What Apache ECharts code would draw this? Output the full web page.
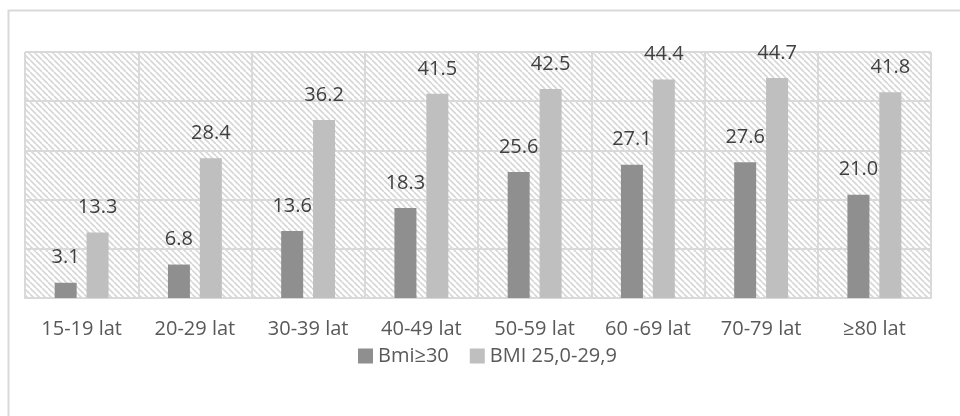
<!DOCTYPE html>
<html>
<head>
<meta charset="utf-8">
<style>
  html, body { margin: 0; padding: 0; background: #ffffff; }
  #chart { width: 960px; height: 416px; }
</style>
<script src="https://cdn.jsdelivr.net/npm/echarts@6/dist/echarts.min.js"></script>
</head>
<body>
<div id="chart"></div>
<script>
// Age groups and shares (%) for the two BMI classes
const categories = ['15-19 lat', '20-29 lat', '30-39 lat', '40-49 lat', '50-59 lat', '60 -69 lat', '70-79 lat', '≥80 lat'];
const obeseValues = [3.1, 6.8, 13.6, 18.3, 25.6, 27.1, 27.6, 21.0];
const overweightValues = [13.3, 28.4, 36.2, 41.5, 42.5, 44.4, 44.7, 41.8];
const seriesNames = ['Bmi≥30', 'BMI 25,0-29,9'];

// Diagonal hatch tile used as the plot background
function makeHatch() {
  const size = 6;
  const c = document.createElement('canvas');
  c.width = size; c.height = size;
  const g = c.getContext('2d');
  g.fillStyle = '#ffffff';
  g.fillRect(0, 0, size, size);
  g.strokeStyle = '#d6d6d6';
  g.lineWidth = 1.6;
  g.beginPath();
  for (let k = -1; k <= 1; k++) {
    g.moveTo(k * size, 0);
    g.lineTo(k * size + size, size);
  }
  g.stroke();
  return c;
}

const font = '"Open Sans", "DejaVu Sans", sans-serif';
const chart = echarts.init(document.getElementById('chart'), null, { renderer: 'canvas' });

const labelCfg = {
  show: true,
  position: 'top',
  distance: 15,
  fontFamily: font,
  fontSize: 20,
  color: '#404040',
  formatter: p => Number(p.value).toFixed(1)
};

chart.setOption({
  backgroundColor: '#ffffff',
  animation: false,
  textStyle: { fontFamily: font },
  graphic: {
    elements: [{
      type: 'rect',
      silent: true,
      shape: { x: 8.5, y: 10.5, width: 1000, height: 1000 },
      style: { fill: 'none', stroke: '#d9d9d9', lineWidth: 2 }
    }]
  },
  grid: {
    left: 25, right: 29, top: 52, bottom: 118,
    show: true,
    borderWidth: 0,
    backgroundColor: { image: makeHatch(), repeat: 'repeat' }
  },
  legend: {
    data: seriesNames,
    left: 353,
    top: 341,
    icon: 'rect',
    itemWidth: 15,
    itemHeight: 15,
    itemGap: 21,
    textStyle: { fontFamily: font, fontSize: 20, color: '#595959' }
  },
  xAxis: {
    type: 'category',
    data: categories,
    axisLine: { show: true, lineStyle: { color: '#d9d9d9', width: 2 } },
    axisTick: { show: false },
    axisLabel: { margin: 21, fontFamily: font, fontSize: 20, color: '#595959' },
    splitLine: { show: true, lineStyle: { color: '#d9d9d9', width: 2 } }
  },
  yAxis: {
    type: 'value',
    min: 0,
    max: 50,
    interval: 10,
    axisLine: { show: false },
    axisTick: { show: false },
    axisLabel: { show: false },
    splitLine: { show: true, lineStyle: { color: '#d9d9d9', width: 2 } }
  },
  series: [
    {
      name: seriesNames[0],
      type: 'bar',
      data: obeseValues,
      barWidth: 22,
      barGap: '45%',
      itemStyle: { color: '#8f8f8f' },
      label: labelCfg
    },
    {
      name: seriesNames[1],
      type: 'bar',
      data: overweightValues,
      barWidth: 22,
      barGap: '45%',
      itemStyle: { color: '#bfbfbf' },
      label: labelCfg
    }
  ]
});
</script>
</body>
</html>
